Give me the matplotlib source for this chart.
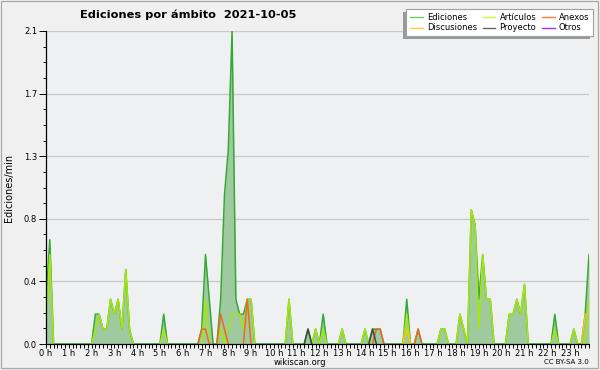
import numpy as np
import matplotlib
matplotlib.use('Agg')
import matplotlib.pyplot as plt
from matplotlib.lines import Line2D
from matplotlib.patches import Rectangle
from matplotlib.ticker import MultipleLocator

# =======================
# datos: ediciones/min por franjas de 10 minutos (00:00 .. 23:50)
# =======================
slot_minutes = list(range(0, 1440, 10))
hour_labels = [f"{h} h" for h in range(24)]

ediciones = [
    0.3, 0.7, 0, 0, 0, 0, 0, 0, 0, 0, 0, 0,              # 0h-1h
    0, 0.2, 0.2, 0.1, 0.1, 0.3, 0.2, 0.3, 0.1, 0.5, 0.1, 0,  # 2h-3h
    0, 0, 0, 0, 0, 0, 0, 0.2, 0, 0, 0, 0,                # 4h-5h
    0, 0, 0, 0, 0, 0.1, 0.6, 0.3, 0, 0, 0.3, 1.0,        # 6h-7h
    1.3, 2.1, 0.3, 0.2, 0.2, 0.3, 0.3, 0, 0, 0, 0, 0,    # 8h-9h
    0, 0, 0, 0, 0.3, 0, 0, 0, 0, 0.1, 0, 0.1,            # 10h-11h
    0, 0.2, 0, 0, 0, 0, 0.1, 0, 0, 0, 0, 0,              # 12h-13h
    0.1, 0, 0.1, 0.1, 0.1, 0, 0, 0, 0, 0, 0, 0.3,        # 14h-15h
    0, 0, 0.1, 0, 0, 0, 0, 0, 0.1, 0.1, 0, 0,            # 16h-17h
    0, 0.2, 0.1, 0, 0.9, 0.8, 0.3, 0.6, 0.3, 0.3, 0, 0,  # 18h-19h
    0, 0, 0.2, 0.2, 0.3, 0.2, 0.4, 0, 0, 0, 0, 0,        # 20h-21h
    0, 0, 0.2, 0, 0, 0, 0, 0.1, 0, 0, 0.2, 0.6,          # 22h-23h
]

articulos = [
    0.1, 0.6, 0, 0, 0, 0, 0, 0, 0, 0, 0, 0,
    0, 0.1, 0.2, 0.1, 0.1, 0.3, 0.2, 0.3, 0.1, 0.5, 0.1, 0,
    0, 0, 0, 0, 0, 0, 0, 0.1, 0, 0, 0, 0,
    0, 0, 0, 0, 0, 0, 0.3, 0, 0, 0, 0.1, 0,
    0.1, 0.2, 0.2, 0.2, 0.1, 0.3, 0.3, 0, 0, 0, 0, 0,
    0, 0, 0, 0, 0.3, 0, 0, 0, 0, 0, 0, 0.1,
    0, 0.1, 0, 0, 0, 0, 0.1, 0, 0, 0, 0, 0,
    0.1, 0, 0, 0, 0, 0, 0, 0, 0, 0, 0, 0.2,
    0, 0, 0, 0, 0, 0, 0, 0, 0.1, 0.1, 0, 0,
    0, 0.2, 0.1, 0, 0.9, 0.8, 0.1, 0.6, 0.3, 0.3, 0, 0,
    0, 0, 0.2, 0.2, 0.3, 0.2, 0.4, 0, 0, 0, 0, 0,
    0, 0, 0.1, 0, 0, 0, 0, 0.1, 0, 0, 0, 0.3,
]

# series casi vacias: solo las franjas con actividad
anexos = {"06:50": 0.1, "07:00": 0.1, "07:40": 0.2, "07:50": 0.1,
          "08:50": 0.3, "14:30": 0.1, "14:40": 0.1, "16:20": 0.1}
discusiones = {"15:50": 0.1, "23:40": 0.2, "23:50": 0.2}
proyecto = {"11:30": 0.1, "14:20": 0.1}
otros = {}


def expand(sparse):
    out = [0.0] * len(slot_minutes)
    for hhmm, v in sparse.items():
        h, m = hhmm.split(':')
        out[(int(h) * 60 + int(m)) // 10] = v
    return out


def hide_flat_zeros(vals):
    # no dibujar tramos a cero que quedan encima del eje
    v = np.array(vals, dtype=float)
    keep = v > 0
    keep[1:] |= v[:-1] > 0
    keep[:-1] |= v[1:] > 0
    return np.ma.masked_where(~keep, v)


# =======================
# figura
# =======================
fig = plt.figure(figsize=(6, 3.7), dpi=100, facecolor='#f0f0f0')
ax = fig.add_axes([46 / 600, 26 / 370, 543 / 600, 313 / 370])
ax.set_facecolor('#eff0f2')

x = np.array(slot_minutes)
ax.fill_between(x, ediciones, color='#9fc99f', lw=0, zorder=1)
ax.plot(x, ediciones, color='#36a836', lw=1.1, zorder=2)

series = [
    (articulos, '#a6e60f'),
    (expand(anexos), '#ee6a22'),
    (expand(discusiones), '#f2c418'),
    (expand(proyecto), '#3d4a3d'),
    (expand(otros), '#9933ff'),
]
for vals, col in series:
    ax.plot(x, hide_flat_zeros(vals), color=col, lw=1.1, zorder=2)

ax.set_xlim(0, 1430)
ax.set_ylim(0, 2.1)

ax.set_xticks(list(range(0, 1440, 60)))
ax.set_xticklabels(hour_labels)
ax.xaxis.set_minor_locator(MultipleLocator(10))

yt = np.linspace(0, 2.1, 6)
ax.set_yticks(yt)
ax.set_yticklabels([f"{v:.1f}" for v in yt])
ax.yaxis.set_minor_locator(MultipleLocator(0.105))

ax.yaxis.grid(True, which='major', color='#c8c8c8', lw=0.9)
ax.set_axisbelow(True)

for s in ['top', 'right']:
    ax.spines[s].set_visible(False)
for s in ['left', 'bottom']:
    ax.spines[s].set_linewidth(0.9)
    ax.spines[s].set_zorder(3)

ax.tick_params(axis='y', which='major', length=5.4, width=0.7, pad=1, labelsize=6)
ax.tick_params(axis='y', which='minor', length=2.2, width=0.7)
ax.tick_params(axis='x', which='both', length=2.8, width=0.7, pad=1, labelsize=6)

# leyenda (fila 1: Ediciones, Artículos, Anexos)
handles = [
    Line2D([], [], color='#66cc66', lw=1),
    Line2D([], [], color='#ffcc33', lw=1),
    Line2D([], [], color='#ccff33', lw=1),
    Line2D([], [], color='#666666', lw=1),
    Line2D([], [], color='#ff7733', lw=1),
    Line2D([], [], color='#9933ff', lw=1),
]
labels = ['Ediciones', 'Discusiones', 'Artículos', 'Proyecto', 'Anexos', 'Otros']
leg = ax.legend(handles, labels, ncol=3, loc='upper right',
                bbox_to_anchor=(593 / 600, 1 - 9 / 370), bbox_transform=fig.transFigure,
                borderaxespad=0, fontsize=6, handlelength=1.5, handletextpad=0.5,
                columnspacing=0.7, labelspacing=0.2, borderpad=0.45,
                fancybox=False, framealpha=1, edgecolor='#a0a0a0',
                shadow={'ox': -2.2, 'oy': -2.2, 'facecolor': '#9a9a9a',
                        'edgecolor': 'none', 'alpha': 1})
leg.get_frame().set_linewidth(0.8)

# textos
fig.text(188 / 600, 1 - 15 / 370, 'Ediciones por ámbito  2021-10-05',
         ha='center', va='center', fontsize=8.2, fontweight='bold')
fig.text(9 / 600, 1 - 188 / 370, 'Ediciones/min', rotation=90,
         ha='center', va='center', fontsize=7)
fig.text(300 / 600, 1 - 362.5 / 370, 'wikiscan.org', ha='center', va='center', fontsize=6)
fig.text(589 / 600, 1 - 362.5 / 370, 'CC BY-SA 3.0', ha='right', va='center', fontsize=5)

fig.patches.append(Rectangle((0.5 / 600, 2 / 370), 597 / 600, 367.5 / 370,
                             transform=fig.transFigure, fill=False,
                             edgecolor='#a8a8a8', lw=0.9))

fig.savefig('out.png', dpi=100, facecolor=fig.get_facecolor())
